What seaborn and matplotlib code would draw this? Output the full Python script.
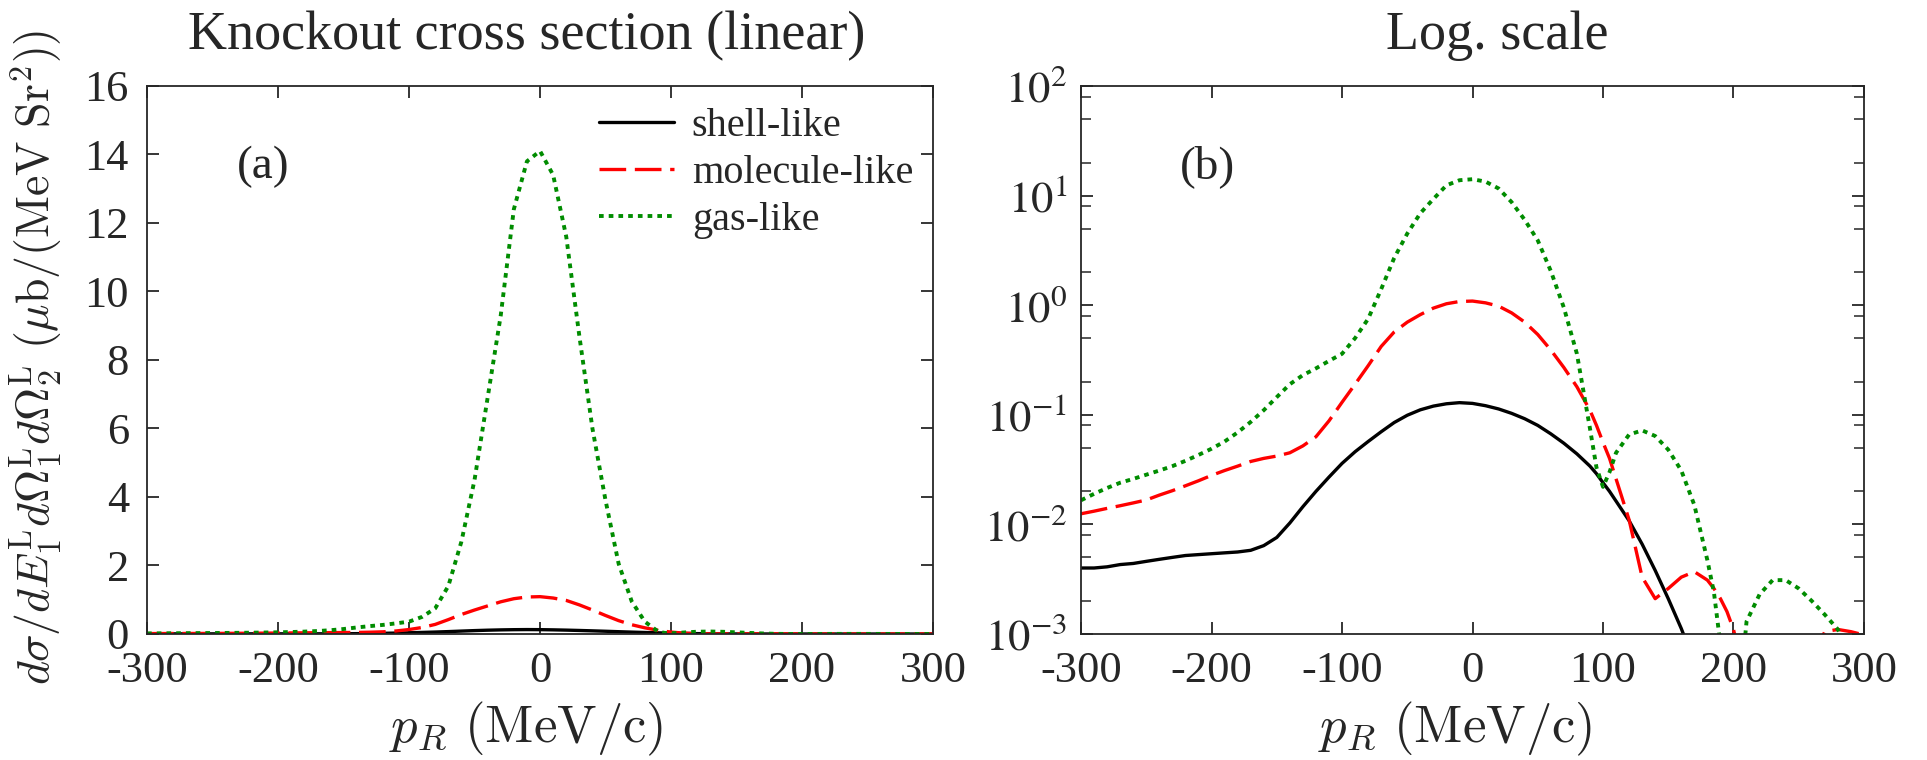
import numpy as np
import pandas as pd
import matplotlib
matplotlib.use('Agg')
import matplotlib.pyplot as plt
from matplotlib.ticker import FixedLocator, FuncFormatter, NullFormatter
import seaborn as sns

sns.set_style('ticks')
plt.rcParams['font.family'] = ['Liberation Serif', 'DejaVu Serif']
plt.rcParams['mathtext.fontset'] = 'stix'
plt.rcParams['axes.unicode_minus'] = False

# recoil momentum p_R (MeV/c)
p_r = [-300, -290, -280, -270, -260, -250, -240, -230, -220, -210,
       -200, -190, -180, -170, -160, -150, -140, -130, -120, -110,
       -100, -90, -80, -70, -60, -50, -40, -30, -20, -10,
       0, 10, 20, 30, 40, 50, 60, 70, 80, 90,
       95, 100, 105, 110, 120, 130, 140, 150, 160, 170,
       180, 185, 190, 195, 200, 205, 210, 220, 230, 240,
       250, 260, 270, 280, 290, 300]

# cross sections (mub/(MeV Sr^2))
shell_like = [0.0040, 0.0040, 0.0041, 0.0043, 0.0044, 0.0046, 0.0048, 0.0050, 0.0052, 0.0053,
              0.0054, 0.0055, 0.0056, 0.0058, 0.0064, 0.0076, 0.0103, 0.0145, 0.020, 0.027,
              0.036, 0.046, 0.057, 0.070, 0.085, 0.099, 0.111, 0.120, 0.126, 0.129,
              0.127, 0.121, 0.113, 0.103, 0.092, 0.080, 0.067, 0.055, 0.044, 0.034,
              0.029, 0.024, 0.020, 0.0163, 0.0108, 0.0066, 0.0038, 0.0021, 0.00112, 0.00055,
              0.0002, 0.0001, 4e-5, 1e-5, 2e-6, 1e-6, 1e-6, 1e-6, 1e-6, 1e-6,
              1e-6, 1e-6, 1e-6, 1e-6, 1e-6, 1e-6]

molecule_like = [0.0125, 0.0132, 0.0140, 0.0148, 0.0157, 0.0167, 0.0185, 0.0203, 0.0225, 0.025,
                 0.028, 0.031, 0.034, 0.0375, 0.040, 0.042, 0.045, 0.052, 0.063, 0.088,
                 0.13, 0.19, 0.28, 0.42, 0.57, 0.70, 0.82, 0.94, 1.03, 1.08,
                 1.09, 1.05, 0.98, 0.85, 0.70, 0.54, 0.39, 0.27, 0.18, 0.11,
                 0.08, 0.056, 0.040, 0.026, 0.011, 0.0033, 0.0021, 0.0026, 0.0033, 0.0037,
                 0.0031, 0.0026, 0.0021, 0.0016, 0.0011, 0.0006, 0.00015, 4e-5, 1e-5, 2e-5,
                 0.0001, 0.0006, 0.00105, 0.0011, 0.00105, 0.00098]

gas_like = [0.0166, 0.019, 0.0215, 0.024, 0.026, 0.0284, 0.031, 0.034, 0.038, 0.043,
            0.049, 0.057, 0.069, 0.086, 0.11, 0.145, 0.19, 0.23, 0.265, 0.31,
            0.36, 0.5, 0.75, 1.4, 2.7, 4.5, 6.9, 9.3, 12.4, 13.8,
            14.1, 13.4, 11.6, 8.7, 6.0, 3.9, 2.05, 0.95, 0.36, 0.075,
            0.033, 0.022, 0.030, 0.045, 0.066, 0.072, 0.064, 0.048, 0.031, 0.015,
            0.0047, 0.0024, 0.0008, 0.0002, 5e-5, 0.0003, 0.0013, 0.0023, 0.0031, 0.0031,
            0.0026, 0.0020, 0.0015, 0.0011, 0.0006, 0.0002]

series_names = ['shell-like', 'molecule-like', 'gas-like']
series_colors = ['black', '#ff0000', '#008c00']
series_styles = ['-', (0, (8, 2.6)), (0, (1.2, 1.3))]
series_widths = [2.4, 2.4, 2.8]

df = pd.DataFrame({'p_r': p_r, 'shell-like': shell_like,
                   'molecule-like': molecule_like, 'gas-like': gas_like})
df = df.melt(id_vars='p_r', var_name='model', value_name='xsec')

fig = plt.figure(figsize=(19.27, 7.6), dpi=100)
ax_lin = fig.add_axes([0.0763, 0.1658, 0.4079, 0.7211])
ax_log = fig.add_axes([0.561, 0.1658, 0.4063, 0.7211])
ax_log.set_yscale('log')

for ax in [ax_lin, ax_log]:
    for name, col, ls, lw in zip(series_names, series_colors, series_styles, series_widths):
        sns.lineplot(data=df[df['model'] == name], x='p_r', y='xsec', color=col,
                     linestyle=ls, linewidth=lw, label=name, errorbar=None, ax=ax)
    ax.set_xlim(-300, 300)
    ax.xaxis.set_major_locator(FixedLocator([-300, -200, -100, 0, 100, 200, 300]))
    ax.tick_params(which='major', direction='in', top=True, right=True,
                   length=8.5, width=1.3, labelsize=32, pad=12)
    ax.tick_params(which='minor', direction='in', top=False, right=True,
                   length=7, width=1.1)
    for sp in ax.spines.values():
        sp.set_linewidth(1.3)
    ax.set_xlabel(r'$p_R\ (\mathrm{MeV/c})$', fontsize=38, math_fontfamily='cm')
    ax.set_ylabel('')

ax_lin.set_ylim(0, 16)
ax_lin.yaxis.set_major_locator(FixedLocator(list(range(0, 17, 2))))
ax_lin.tick_params(axis='y', which='major', pad=13)
ax_lin.xaxis.set_label_coords(0.482, -0.12)
ax_lin.set_ylabel(r'$d\sigma/dE_1^{\rm L}d\Omega_1^{\rm L}d\Omega_2^{\rm L}\ (\mu{\rm b}/({\rm MeV\ Sr}^2))$',
                  fontsize=33, math_fontfamily='cm')
ax_lin.yaxis.set_label_coords(-0.104, 0.505)
ax_lin.legend(loc='upper right', frameon=False, fontsize=29, handlelength=1.85,
              labelspacing=0.25, handletextpad=0.45, borderaxespad=0, borderpad=0.2,
              bbox_to_anchor=(0.985, 0.975))
ax_lin.text(0.148, 0.852, '(a)', transform=ax_lin.transAxes, fontsize=34,
            ha='center', va='center')

ax_log.set_ylim(1e-3, 1e2)
ax_log.yaxis.set_major_locator(FixedLocator([1e-3, 1e-2, 1e-1, 1, 10, 100]))
ax_log.yaxis.set_major_formatter(FuncFormatter(lambda v, pos: r'$10^{%d}$' % round(np.log10(v))))
ax_log.yaxis.set_minor_locator(FixedLocator([m * 10.0 ** k for k in range(-3, 2) for m in (2, 5, 8)]))
ax_log.yaxis.set_minor_formatter(NullFormatter())
ax_log.tick_params(axis='y', which='major', pad=10)
ax_log.xaxis.set_label_coords(0.478, -0.12)
if ax_log.get_legend() is not None:
    ax_log.get_legend().remove()
ax_log.text(0.161, 0.852, '(b)', transform=ax_log.transAxes, fontsize=34,
            ha='center', va='center')

fig.text(527 / 1927, 1 - 36 / 760, 'Knockout cross section (linear)', fontsize=39,
         ha='center', va='center')
fig.text(1497 / 1927, 1 - 36 / 760, 'Log. scale', fontsize=39, ha='center', va='center')

fig.savefig('out.png', dpi=100)
